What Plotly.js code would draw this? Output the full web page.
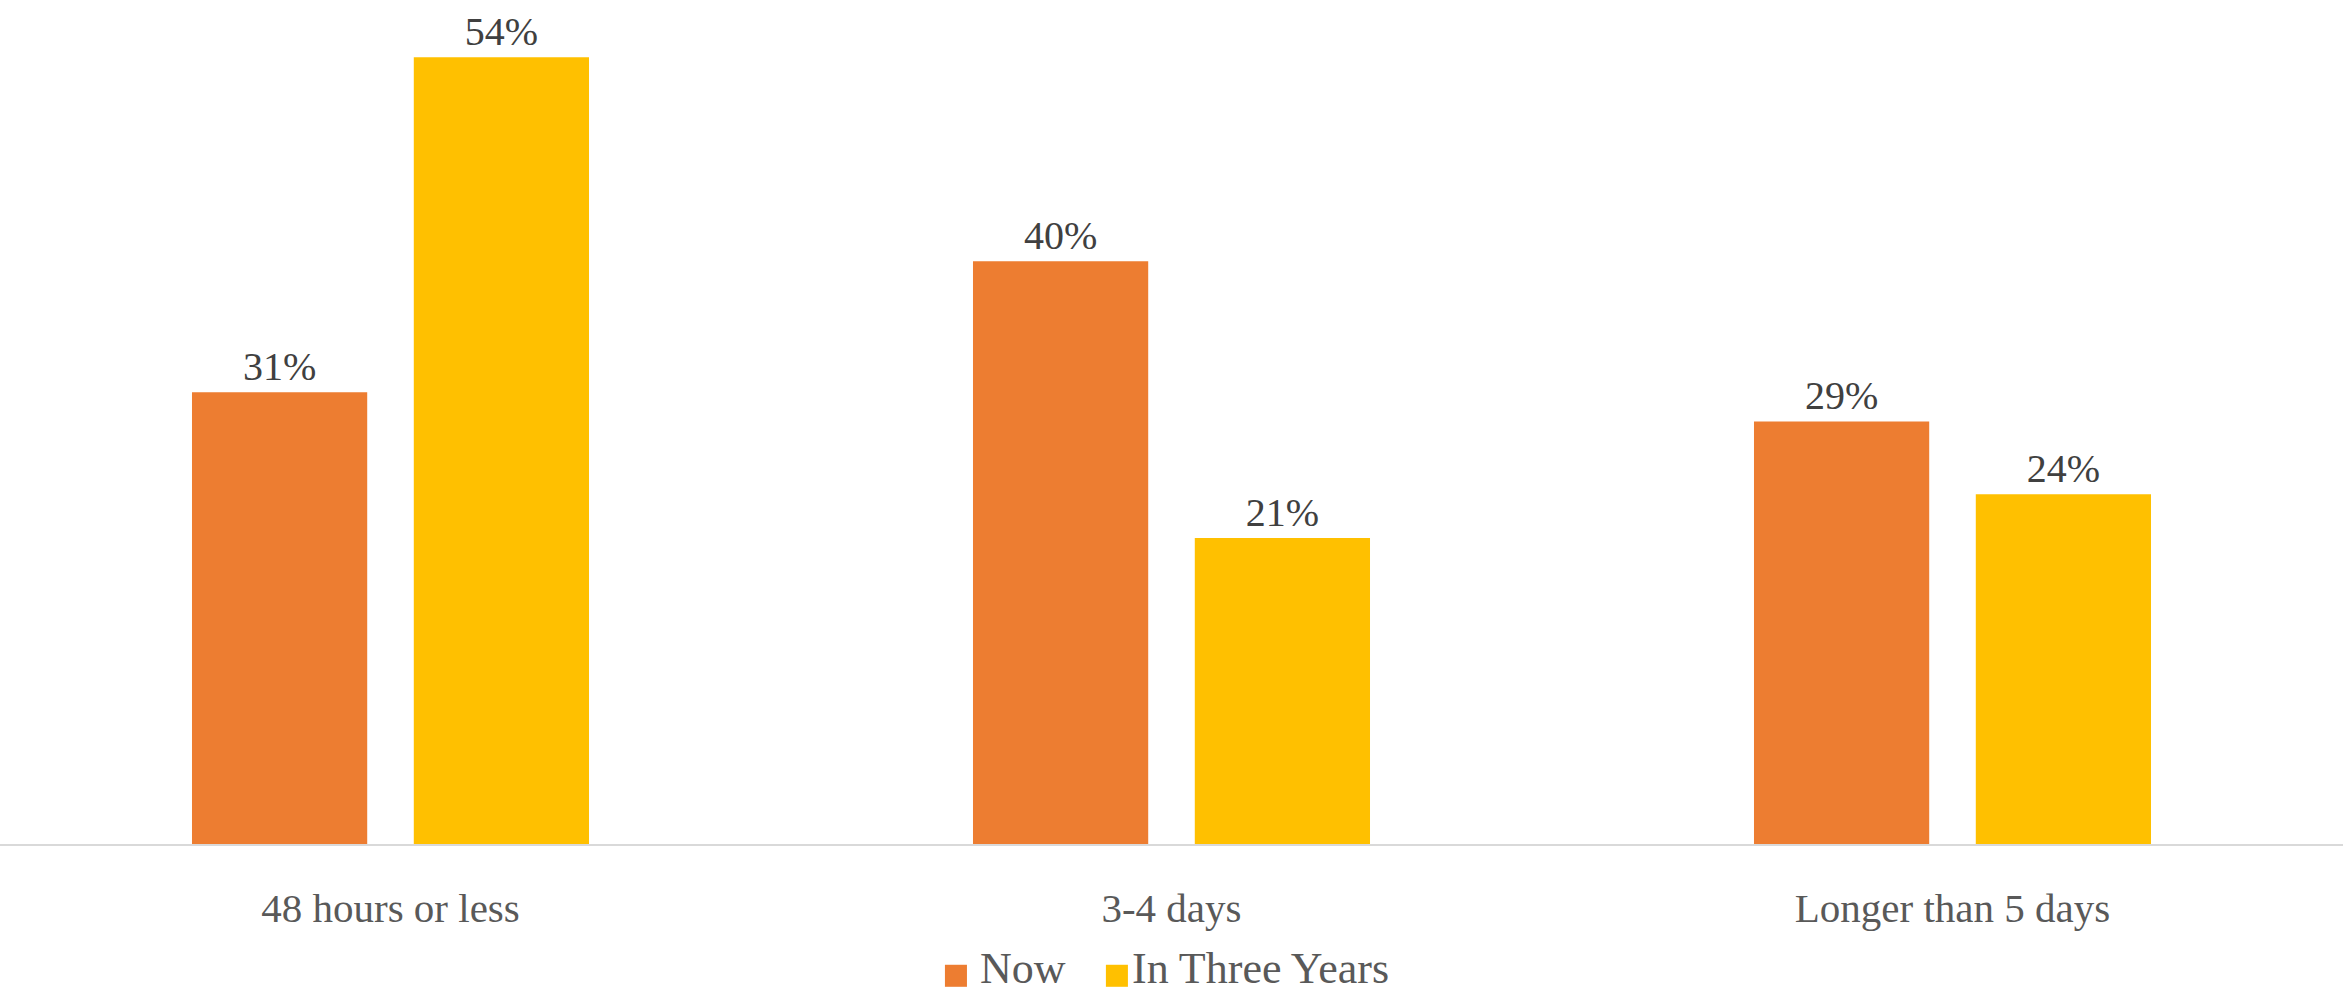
<!DOCTYPE html>
<html>
<head>
<meta charset="utf-8">
<script src="https://cdn.plot.ly/plotly-3.0.1.min.js"></script>
<style>html,body{margin:0;padding:0;background:#fff;}#chart{width:2343px;height:995px;}</style>
</head>
<body>
<div id="chart"></div>
<script>
const categories = ['48 hours or less', '3-4 days', 'Longer than 5 days'];
const seriesNames = ['Now', 'In Three Years'];
const nowValues = [0.31, 0.40, 0.29];
const threeYearValues = [0.54, 0.21, 0.24];
const colors = ['#ED7D31', '#FFC000'];

const FONT = "Georgia, 'Liberation Serif', serif";

const traces = [nowValues, threeYearValues].map((vals, i) => ({
  type: 'bar',
  name: seriesNames[i],
  x: categories,
  y: vals,
  marker: {color: colors[i]},
  texttemplate: '%{y:.0%}',
  textposition: 'outside',
  constraintext: 'none',
  cliponaxis: false,
  textfont: {family: FONT, size: 40, color: '#404040'},
  hoverinfo: 'skip',
  showlegend: false
}));

// custom legend (swatch squares + labels)
const legX = [0.4033, 0.472];
const legTextX = [0.4174, 0.4823];
const shapes = seriesNames.map((n, i) => ({
  type: 'rect', xref: 'paper', yref: 'paper',
  x0: legX[i], x1: legX[i] + 0.0094, y0: -0.175, y1: -0.148,
  fillcolor: colors[i], line: {width: 0}
}));
const annotations = seriesNames.map((n, i) => ({
  text: n, xref: 'paper', yref: 'paper', x: legTextX[i], y: -0.153,
  xanchor: 'left', yanchor: 'middle', showarrow: false,
  font: {family: FONT, size: 44, color: '#595959'}
}));

const layout = {
  width: 2343, height: 995,
  margin: {l: 0, r: 0, t: 28, b: 151},
  paper_bgcolor: '#fff', plot_bgcolor: '#fff',
  barmode: 'group',
  bargap: 0.432,
  bargroupgap: 0.21,
  showlegend: false,
  xaxis: {
    showline: true, linecolor: '#d9d9d9', linewidth: 2,
    ticks: '', showgrid: false, zeroline: false,
    tickfont: {family: FONT, size: 41, color: '#595959'},
    ticklabelstandoff: 27
  },
  yaxis: {
    range: [0, 0.56], visible: false, showgrid: false, zeroline: false
  },
  shapes: shapes,
  annotations: annotations
};

Plotly.newPlot('chart', traces, layout, {displayModeBar: false, staticPlot: true});
</script>
</body>
</html>
